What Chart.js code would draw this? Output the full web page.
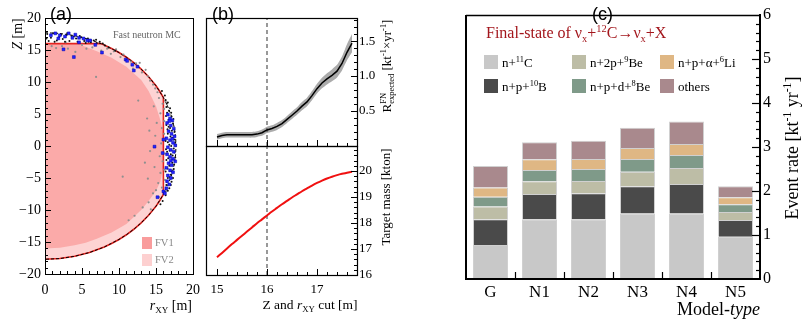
<!DOCTYPE html>
<html><head><meta charset="utf-8">
<script src="https://cdn.jsdelivr.net/npm/chart.js@4.4.1/dist/chart.umd.min.js"></script>
<style>
html,body{margin:0;padding:0;background:#fff;}
#wrap{position:relative;width:803px;height:327px;overflow:hidden;background:#fff;}
canvas{position:absolute;left:0;top:0;pointer-events:none;}
</style></head><body>
<div id="wrap">
<canvas id="ca" width="803" height="327"></canvas>
<canvas id="cb1" width="803" height="327"></canvas>
<canvas id="cb2" width="803" height="327"></canvas>
<canvas id="cc" width="803" height="327"></canvas>
</div>
<script>
// ---------------- DATA: panel (a) ----------------
const aXTickVals = [0, 5, 10, 15, 20];
const aXTickLabels = ['0', '5', '10', '15', '20'];
const aYTickVals = [-20, -15, -10, -5, 0, 5, 10, 15, 20];
const aYTickLabels = ['\u221220', '\u221215', '\u221210', '\u22125', '0', '5', '10', '15', '20'];

const fv2R  = [0, 2, 4, 6, 7.57, 8, 9, 10, 11, 12, 13, 14, 15, 15.5, 16];
const fv2Up = [16, 16, 16, 16, 16, 15.79, 15.24, 14.6, 13.87, 13.01, 12.01, 10.83, 9.4, 8.55, 7.57];
const fv2Lo = [-17.7, -17.59, -17.24, -16.65, -16.0, -15.79, -15.24, -14.6, -13.87, -13.01, -12.01, -10.83, -9.4, -8.55, -7.57];

const fv1R  = [0, 2, 4, 5.5, 7, 9, 11, 13, 14, 15, 15.6, 16];
const fv1Up = [16, 16, 16, 15.5, 14.8, 13.8, 12.4, 10.3, 8.6, 6.2, 4.0, 2.0];
const fv1Lo = [-16, -15.9, -15.5, -15.1, -14.5, -13.5, -12.2, -10.0, -8.6, -7.0, -5.5, -3.3];

const aCutLine = [[0,16],[7.57,16],[8,15.79],[9,15.24],[10,14.6],[11,13.87],[12,13.01],[13,12.01],[14,10.83],[15,9.4],[15.5,8.55],[16,7.57],
  [16,-7.57],[15.5,-8.55],[15,-9.4],[14,-10.83],[13,-12.01],[12,-13.01],[11,-13.87],[10,-14.6],[9,-15.24],[8,-15.79],[6,-16.65],[4,-17.24],[2,-17.59],[0,-17.7]];

const aVessel = [[0,17.7],[2,17.59],[4,17.24],[6,16.65],[8,15.79],[10,14.6],[11,13.87],[12,13.01],[13,12.01],[14,10.83],[15,9.4],[16,7.57],[16.5,6.41],[17,4.93],[17.3,3.74],[17.5,2.65],[17.65,1.33],[17.7,0],
  [17.65,-1.33],[17.5,-2.65],[17.3,-3.74],[17,-4.93],[16.5,-6.41],[16,-7.57],[15,-9.4],[14,-10.83],[13,-12.01],[12,-13.01],[11,-13.87],[10,-14.6],[8,-15.79],[6,-16.65],[4,-17.24],[2,-17.59],[0,-17.7]];

const aGray = [[6.9,10.8],[1.5,15.3],[2.3,15.6],[3.1,15.2],[5.0,15.8],[6.4,15.4],[7.6,14.9],[8.4,15.2],[9.3,14.8],[10.2,13.9],[10.6,14.3],[11.6,13.2],[12.3,12.9],[13.1,11.5],[13.6,11.9],[14.2,10.2],[14.6,9.6],[13.9,10.9],[15.2,8.4],[15.4,7.5],[14.7,6.2],[15.6,5.1],[13.8,4.3],[15.1,3.6],[15.8,2.8],[14.9,1.6],[15.7,0.4],[14.2,-0.8],[15.5,-1.6],[15.9,-2.4],[14.8,-3.3],[15.6,-4.2],[13.9,-5.1],[15.3,-5.8],[15.8,-6.5],[14.6,-7.4],[14.0,-8.8],[13.2,-9.6],[12.1,-10.9],[11.3,-11.6],[15.0,-6.9],[14.1,2.4],[13.5,-2.6],[10.5,-4.8],[12.6,7.1],[16.1,5.8],[16.2,-5.3],[16.1,3.9],[16.2,-1.2],[9.6,15.1],[4.1,14.7],[12.8,13.0],[11.9,12.1],[16.3,7.0],[16.4,-7.0],
  [2.8,16.2],[0.9,15.6],[5.6,15.2],[8.9,14.4],[14.9,9.0],[15.9,6.6],[16.1,1.9],[16.1,-3.7],[15.4,-8.0],[14.3,-9.9]];

const aBlack = [[0.3,17.5],[0.8,16.9],[1.1,17.6],[1.6,16.5],[2.2,17.4],[2.4,16.7],[2.9,17.3],[3.3,16.4],[3.6,17.2],[4.2,16.8],[4.4,16.3],[4.9,17.0],[5.3,16.4],[5.8,16.8],[6.2,16.2],[6.6,16.5],[7.0,16.1],[7.4,16.3],[8.1,15.7],[0.5,16.4],[1.9,17.0],[3.9,17.1],[5.5,16.1],
  [16.3,7.2],[16.6,6.8],[16.4,6.1],[16.9,5.9],[16.5,5.2],[17.1,4.6],[16.7,4.1],[17.3,3.5],[16.4,3.3],[16.9,2.8],[17.5,2.2],[16.6,1.9],[17.2,1.3],[16.3,0.8],[17.6,0.5],[16.8,0.2],[17.4,-0.4],[16.5,-0.9],[17.0,-1.3],[17.6,-1.8],[16.4,-2.2],[17.2,-2.6],[16.8,-3.1],[17.4,-3.6],[16.3,-4.0],[17.0,-4.5],[16.6,-5.0],[17.1,-5.6],[16.4,-6.1],[16.8,-6.6],[16.2,-7.2],[16.9,-3.9],[17.5,-1.0],[16.7,3.0],[17.3,-5.0],
  [16.45,6.6],[16.75,5.5],[17.05,5.2],[16.35,4.7],[17.35,4.2],[16.55,2.6],[17.15,2.4],[16.95,1.5],[17.45,1.0],[16.6,0.6],[17.05,0.0],[16.35,-0.5],[16.85,-0.7],[17.25,-1.5],[16.65,-1.9],[17.45,-2.9],[16.55,-3.5],[17.15,-4.0],[16.85,-4.9],[16.45,-5.6],[17.0,-6.1],[16.6,-7.0],[16.3,-7.7],[15.9,-8.6],[15.6,-9.1],[16.2,7.9],[15.8,8.6],
  [1.3,16.3],[2.7,16.3],[3.0,17.6],[4.7,17.2],[5.9,16.3],[6.9,16.6],[7.8,16.0],[8.6,15.4],[9.5,14.9],[0.2,16.8]];

const aBlue = [[0.8,17.3],[1.4,17.6],[2.0,17.3],[2.7,17.1],[3.2,17.6],[3.7,16.9],[4.1,17.4],[4.6,16.9],[5.2,16.8],[5.7,16.5],[6.1,16.5],[4.6,16.2],[6.8,15.8],[7.7,14.6],[2.5,15.1],[3.9,13.9],[10.9,13.5],[11.1,13.3],[11.8,12.7],[12.5,12.4],[12.0,11.8],[1.8,16.8],
  [16.6,4.9],[16.9,4.3],[17.2,4.0],[16.5,3.6],[17.0,3.2],[17.4,2.7],[16.7,2.3],[17.1,1.9],[17.5,1.5],[16.4,1.2],[16.9,0.9],[17.3,0.5],[17.6,0.1],[16.6,-0.2],[17.0,-0.6],[17.4,-0.9],[16.5,-1.3],[16.9,-1.7],[17.3,-2.0],[17.6,-2.4],[16.7,-2.7],[17.1,-3.0],[16.4,-3.4],[16.9,-3.8],[17.3,-4.1],[16.6,-4.6],[17.0,-5.0],[16.5,-5.5],[16.8,-6.0],[16.4,-6.6],[17.2,1.1],[16.8,3.9],[17.0,-2.3],[15.9,-1.1],[14.8,-0.1],[16.0,1.0],[15.2,-8.0],[16.0,-7.1],[16.2,-7.4]];

// ---------------- DATA: panel (b) ----------------
const bCut = [15.0,15.1,15.2,15.3,15.4,15.5,15.6,15.7,15.8,15.9,16.0,16.1,16.2,16.3,16.4,16.5,16.6,16.7,16.8,16.9,17.0,17.1,17.2,17.3,17.4,17.5,17.6,17.7];
const bRate = [0.13,0.15,0.16,0.16,0.16,0.16,0.16,0.16,0.17,0.19,0.23,0.25,0.28,0.32,0.38,0.44,0.50,0.57,0.63,0.72,0.82,0.90,0.96,1.01,1.07,1.18,1.34,1.47];
const bRateErr = [0.04,0.04,0.04,0.04,0.04,0.04,0.04,0.04,0.04,0.045,0.045,0.045,0.05,0.05,0.05,0.055,0.055,0.06,0.06,0.065,0.07,0.075,0.08,0.085,0.09,0.1,0.115,0.13];
const bMass = [16.68,16.85,17.02,17.19,17.35,17.51,17.67,17.83,17.99,18.14,18.29,18.44,18.58,18.72,18.85,18.98,19.10,19.22,19.33,19.44,19.54,19.63,19.71,19.78,19.84,19.89,19.93,19.97];
const bXTickVals = [15, 16, 17];
const bXTickLabels = ['15', '16', '17'];
const bRateTickVals = [0.5, 1.0, 1.5];
const bRateTickLabels = ['0.5', '1.0', '1.5'];
const bMassTickVals = [16, 17, 18, 19, 20];
const bMassTickLabels = ['16', '17', '18', '19', '20'];
const bCutMark = 16;

// ---------------- DATA: panel (c) ----------------
const cModels = ['G', 'N1', 'N2', 'N3', 'N4', 'N5'];
const cN11C   = [0.77, 1.36, 1.36, 1.49, 1.49, 0.96];
const cNP10B  = [0.59, 0.57, 0.59, 0.62, 0.67, 0.38];
const cN2P9Be = [0.29, 0.29, 0.28, 0.33, 0.36, 0.18];
const cNPD8Be = [0.22, 0.26, 0.27, 0.29, 0.30, 0.18];
const cNPA6Li = [0.21, 0.24, 0.23, 0.25, 0.25, 0.16];
const cOthers = [0.49, 0.39, 0.41, 0.46, 0.51, 0.25];
const cYTickVals = [0, 1, 2, 3, 4, 5, 6];
const cYTickLabels = ['0', '1', '2', '3', '4', '5', '6'];

// ---------------- helpers ----------------
const SERIF = '"Liberation Serif", "Times New Roman", serif';
const SANS = '"Liberation Sans", Arial, sans-serif';
const W = 803, H = 327;
Chart.defaults.animation = false;
Chart.defaults.responsive = false;
Chart.defaults.devicePixelRatio = 1;
Chart.defaults.events = [];
Chart.defaults.plugins.legend.display = false;
Chart.defaults.plugins.tooltip.enabled = false;
Chart.defaults.font.family = SERIF;

function box(l, t, r, b) { return { padding: { left: l, top: t, right: W - r, bottom: H - b } }; }
function hidLin(min, max, axis) {
  return { type: 'linear', min, max, display: true, grid: { display: false }, border: { display: false },
    ticks: { display: false }, afterFit(s) { if (axis === 'x') s.height = 0; else s.width = 0; } };
}
function pts(arr) { return arr.map(p => ({ x: p[0], y: p[1] })); }
function xy(xs, ys) { return xs.map((x, i) => ({ x, y: ys[i] })); }
function ln(ctx, x1, y1, x2, y2) { ctx.beginPath(); ctx.moveTo(x1, y1); ctx.lineTo(x2, y2); ctx.stroke(); }
function fstr(size, fam, it) { return (it ? 'italic ' : '') + size + 'px ' + fam; }
function segW(ctx, s, size, fam) {
  const m = s.m || 'n';
  const ss = m === 'n' ? size : size * 0.65;
  ctx.font = fstr(ss, fam, s.i);
  let w = ctx.measureText(s.t).width;
  if (m === 'pb') w = Math.max(w, ctx.measureText(s.t2).width);
  return w;
}
function rich(ctx, segs, x, y, size, fam, color, align) {
  const total = segs.reduce((a, s) => a + segW(ctx, s, size, fam), 0);
  let cx = align === 'center' ? x - total / 2 : (align === 'right' ? x - total : x);
  ctx.fillStyle = color; ctx.textBaseline = 'alphabetic'; ctx.textAlign = 'left';
  for (const s of segs) {
    const w = segW(ctx, s, size, fam);
    const m = s.m || 'n';
    if (m === 'n') { ctx.font = fstr(size, fam, s.i); ctx.fillText(s.t, cx, y); }
    else {
      ctx.font = fstr(size * 0.65, fam, s.i);
      if (m === 'p' || m === 'pb') ctx.fillText(s.t, cx, y - size * 0.38);
      if (m === 'b') ctx.fillText(s.t, cx, y + size * 0.22);
      if (m === 'pb') ctx.fillText(s.t2, cx, y + size * 0.25);
    }
    cx += w;
  }
}
function richRot(ctx, segs, cx, cy, size, fam, color) {
  ctx.save(); ctx.translate(cx, cy); ctx.rotate(-Math.PI / 2);
  rich(ctx, segs, 0, size * 0.35, size, fam, color, 'center');
  ctx.restore();
}
function txt(ctx, s, x, y, size, fam, color, align) {
  ctx.font = fstr(size, fam); ctx.fillStyle = color; ctx.textAlign = align; ctx.textBaseline = 'middle';
  ctx.fillText(s, x, y);
}

// ---------------- panel (a) ----------------
const plugA = { id: 'plugA', afterDraw(chart) {
  const { ctx, chartArea: ca, scales: { x, y } } = chart;
  ctx.save();
  ctx.strokeStyle = '#000'; ctx.lineWidth = 1;
  ctx.strokeRect(Math.round(ca.left) + 0.5, Math.round(ca.top) + 0.5, ca.right - ca.left, ca.bottom - ca.top);
  for (let v = 0; v <= 20; v++) { const px = Math.round(x.getPixelForValue(v)) + 0.5; ln(ctx, px, ca.bottom, px, ca.bottom - (v % 5 === 0 ? 6 : 3)); }
  for (let v = -20; v <= 20; v++) { const py = Math.round(y.getPixelForValue(v)) + 0.5; ln(ctx, ca.left, py, ca.left + (v % 5 === 0 ? 6 : 3), py); }
  aXTickVals.forEach((v, i) => txt(ctx, aXTickLabels[i], x.getPixelForValue(v), 290, 14, SERIF, '#000', 'center'));
  aYTickVals.forEach((v, i) => txt(ctx, aYTickLabels[i], 41, y.getPixelForValue(v), 14, SERIF, '#000', 'right'));
  rich(ctx, [{ t: 'r', i: true }, { t: 'XY', m: 'b' }, { t: ' [m]' }], 192, 310, 14, SERIF, '#000', 'right');
  richRot(ctx, [{ t: 'Z', i: true }, { t: ' [m]' }], 17, 34, 14, SERIF, '#000');
  txt(ctx, 'Fast neutron MC', 113, 35, 10, SERIF, '#666', 'left');
  ctx.fillStyle = '#f99c9c'; ctx.fillRect(142, 237, 10, 12);
  ctx.fillStyle = '#fdd0d0'; ctx.fillRect(142, 254, 10, 12);
  txt(ctx, 'FV1', 155, 243, 10.5, SERIF, '#888', 'left');
  txt(ctx, 'FV2', 155, 260, 10.5, SERIF, '#888', 'left');
  txt(ctx, '(a)', 50, 15, 18, SANS, '#000', 'left');
  ctx.restore();
} };
const noLine = 'rgba(0,0,0,0)';
new Chart(document.getElementById('ca'), {
  type: 'scatter',
  data: { datasets: [
    { data: pts(aBlue), pointStyle: 'rect', pointRadius: 2, backgroundColor: '#2424ff', borderColor: '#0000b0', borderWidth: 0.5, order: 0 },
    { data: pts(aBlack), pointRadius: 1, backgroundColor: '#111', borderWidth: 0, order: 1 },
    { data: pts(aGray), pointRadius: 1.1, backgroundColor: '#8f8f8f', borderWidth: 0, order: 2 },
    { data: pts(aVessel), showLine: true, borderColor: '#000', borderWidth: 1, borderDash: [3, 2], pointRadius: 0, fill: false, order: 3 },
    { data: pts(aCutLine), showLine: true, borderColor: '#e52420', borderWidth: 1.6, pointRadius: 0, fill: false, order: 4 },
    { data: xy(fv1R, fv1Up), showLine: true, borderColor: noLine, borderWidth: 0, pointRadius: 0, backgroundColor: '#fbaaa9', fill: 6, order: 5 },
    { data: xy(fv1R, fv1Lo), showLine: true, borderColor: noLine, borderWidth: 0, pointRadius: 0, fill: false, order: 6 },
    { data: xy(fv2R, fv2Up), showLine: true, borderColor: noLine, borderWidth: 0, pointRadius: 0, backgroundColor: '#fdd3d3', fill: 8, order: 7 },
    { data: xy(fv2R, fv2Lo), showLine: true, borderColor: noLine, borderWidth: 0, pointRadius: 0, fill: false, order: 8 }
  ] },
  options: { layout: box(45, 18, 193, 274), scales: { x: hidLin(0, 20, 'x'), y: hidLin(-20, 20, 'y') } },
  plugins: [plugA]
});

// ---------------- panel (b) top ----------------
function bFrame(ctx, ca, x) {
  ctx.strokeStyle = '#000'; ctx.lineWidth = 1.2;
  ctx.strokeRect(ca.left + 0.5, ca.top + 0.5, ca.right - ca.left, ca.bottom - ca.top);
  ctx.lineWidth = 1;
  for (let k = 74; k <= 89; k++) {
    const v = k / 5; const px = Math.round(x.getPixelForValue(v)) + 0.5;
    if (px < ca.left + 2 || px > ca.right - 2) continue;
    ln(ctx, px, ca.bottom, px, ca.bottom - (k % 5 === 0 ? 6 : 3));
  }
}
const plugB1 = { id: 'plugB1', afterDraw(chart) {
  const { ctx, chartArea: ca, scales: { x, y } } = chart;
  ctx.save();
  bFrame(ctx, ca, x);
  for (let k = 1; k <= 18; k++) { const py = Math.round(y.getPixelForValue(k / 10)) + 0.5; ln(ctx, ca.right, py, ca.right - (k % 5 === 0 ? 6 : 3), py); }
  bRateTickVals.forEach((v, i) => txt(ctx, bRateTickLabels[i], 359, y.getPixelForValue(v), 13, SERIF, '#000', 'left'));
  richRot(ctx, [{ t: 'R' }, { t: 'FN', m: 'pb', t2: 'expected' }, { t: ' [kt' }, { t: '-1', m: 'p' }, { t: '\u00d7yr' }, { t: '-1', m: 'p' }, { t: ']' }], 386, 66, 13, SERIF, '#000');
  txt(ctx, '(b)', 212, 15, 18, SANS, '#000', 'left');
  ctx.restore();
} };
const rateUp = bRate.map((v, i) => v + bRateErr[i]);
const rateLo = bRate.map((v, i) => v - bRateErr[i]);
new Chart(document.getElementById('cb1'), {
  type: 'scatter',
  data: { datasets: [
    { data: xy(bCut, bRate), showLine: true, borderColor: '#000', borderWidth: 1.5, pointRadius: 0, fill: false, order: 0 },
    { data: [{ x: bCutMark, y: 0 }, { x: bCutMark, y: 1.83 }], showLine: true, borderColor: '#555', borderWidth: 1.2, borderDash: [4, 3], pointRadius: 0, fill: false, order: 1 },
    { data: xy(bCut, rateUp), showLine: true, borderColor: noLine, borderWidth: 0, pointRadius: 0, backgroundColor: '#ababab', fill: 3, order: 2, tension: 0.2 },
    { data: xy(bCut, rateLo), showLine: true, borderColor: noLine, borderWidth: 0, pointRadius: 0, fill: false, order: 3, tension: 0.2 }
  ] },
  options: { layout: box(206, 18, 357, 146), scales: { x: hidLin(14.78, 17.8, 'x'), y: hidLin(0, 1.83, 'y') } },
  plugins: [plugB1]
});

// ---------------- panel (b) bottom ----------------
const plugB2 = { id: 'plugB2', afterDraw(chart) {
  const { ctx, chartArea: ca, scales: { x, y } } = chart;
  ctx.save();
  bFrame(ctx, ca, x);
  for (let k = 81; k <= 104; k++) { const py = Math.round(y.getPixelForValue(k / 5)) + 0.5; if (py < ca.top + 2) continue; ln(ctx, ca.right, py, ca.right - (k % 5 === 0 ? 6 : 3), py); }
  bMassTickVals.forEach((v, i) => txt(ctx, bMassTickLabels[i], 359, y.getPixelForValue(v), 13, SERIF, '#000', 'left'));
  bXTickVals.forEach((v, i) => txt(ctx, bXTickLabels[i], x.getPixelForValue(v), 290, 13, SERIF, '#000', 'center'));
  rich(ctx, [{ t: 'Z and ' }, { t: 'r', i: true }, { t: 'XY', m: 'b' }, { t: ' cut [m]' }], 310, 309, 13.5, SERIF, '#000', 'center');
  richRot(ctx, [{ t: 'Target mass [kton]' }], 385, 197, 13, SERIF, '#000');
  ctx.restore();
} };
new Chart(document.getElementById('cb2'), {
  type: 'scatter',
  data: { datasets: [
    { data: xy(bCut, bMass), showLine: true, borderColor: '#f01010', borderWidth: 2, pointRadius: 0, fill: false, order: 0, tension: 0.4 },
    { data: [{ x: bCutMark, y: 16 }, { x: bCutMark, y: 20.96 }], showLine: true, borderColor: '#555', borderWidth: 1.2, borderDash: [4, 3], pointRadius: 0, fill: false, order: 1 }
  ] },
  options: { layout: box(206, 146, 357, 275), scales: { x: hidLin(14.78, 17.8, 'x'), y: hidLin(16, 20.96, 'y') } },
  plugins: [plugB2]
});

// ---------------- panel (c) ----------------
const cColors = ['#c8c8c8', '#4a4a4a', '#bdbda6', '#7f9a89', '#dfb784', '#a9898d'];
const cSeries = [cN11C, cNP10B, cN2P9Be, cNPD8Be, cNPA6Li, cOthers];
const cLegend = [
  [{ t: 'n+' }, { t: '11', m: 'p' }, { t: 'C' }],
  [{ t: 'n+p+' }, { t: '10', m: 'p' }, { t: 'B' }],
  [{ t: 'n+2p+' }, { t: '9', m: 'p' }, { t: 'Be' }],
  [{ t: 'n+p+d+' }, { t: '8', m: 'p' }, { t: 'Be' }],
  [{ t: 'n+p+\u03b1+' }, { t: '6', m: 'p' }, { t: 'Li' }],
  [{ t: 'others' }]
];
const plugC = { id: 'plugC', afterDraw(chart) {
  const { ctx, chartArea: ca, scales: { x, y } } = chart;
  ctx.save();
  ctx.strokeStyle = '#000';
  ctx.lineWidth = 1.5; ln(ctx, ca.left, ca.top + 0.5, ca.right, ca.top + 0.5);
  ctx.lineWidth = 2;
  ln(ctx, ca.left, ca.top, ca.left, ca.bottom + 1);
  ln(ctx, ca.right, ca.top - 1, ca.right, ca.bottom + 1);
  ln(ctx, ca.left - 1, ca.bottom, ca.right + 1, ca.bottom);
  ctx.lineWidth = 1.2;
  for (let k = 1; k < 30; k++) { const py = Math.round(y.getPixelForValue(k / 5)) + 0.5; ln(ctx, ca.right, py, ca.right - (k % 5 === 0 ? 8 : 4), py); }
  for (let i = 0; i < cModels.length - 1; i++) {
    const px = Math.round((x.getPixelForValue(i) + x.getPixelForValue(i + 1)) / 2) + 0.5;
    ln(ctx, px, ca.bottom, px, ca.bottom - 7);
  }
  cYTickVals.forEach((v, i) => txt(ctx, cYTickLabels[i], 763, y.getPixelForValue(v), 16, SERIF, '#000', 'left'));
  cModels.forEach((m, i) => txt(ctx, m, x.getPixelForValue(i), 293, 17, SERIF, '#000', 'center'));
  rich(ctx, [{ t: 'Model-' }, { t: 'type', i: true }], 760, 315, 18, SERIF, '#000', 'right');
  richRot(ctx, [{ t: 'Event rate [kt' }, { t: '-1', m: 'p' }, { t: ' yr' }, { t: '-1', m: 'p' }, { t: ']' }], 792, 148, 18, SERIF, '#000');
  rich(ctx, [{ t: 'Final-state of \u03bd' }, { t: 'x', m: 'b' }, { t: '+' }, { t: '12', m: 'p' }, { t: 'C\u2192\u03bd' }, { t: 'x', m: 'b' }, { t: '+X' }], 486, 38, 16, SERIF, '#a3161c', 'left');
  const colX = [484, 572, 660], rowY = [55, 79];
  const order = [[0, 0, 0], [2, 1, 0], [4, 2, 0], [1, 0, 1], [3, 1, 1], [5, 2, 1]];
  order.forEach(([si, c, r]) => {
    ctx.fillStyle = cColors[si]; ctx.fillRect(colX[c], rowY[r], 14, 14);
    rich(ctx, cLegend[si], colX[c] + 18, rowY[r] + 11.5, 13, SERIF, '#000', 'left');
  });
  txt(ctx, '(c)', 592, 15, 18, SANS, '#000', 'left');
  ctx.restore();
} };
new Chart(document.getElementById('cc'), {
  type: 'bar',
  data: { labels: cModels, datasets: cSeries.map((s, i) => ({ data: s, backgroundColor: cColors[i], borderColor: 'rgba(120,120,120,0.35)', borderWidth: 1, barPercentage: 0.714, categoryPercentage: 1.0 })) },
  options: { layout: box(466, 15, 760, 279),
    scales: { x: { type: 'category', stacked: true, offset: true, display: true, grid: { display: false }, border: { display: false }, ticks: { display: false }, afterFit(s) { s.height = 0; } },
              y: Object.assign(hidLin(0, 6, 'y'), { stacked: true }) } },
  plugins: [plugC]
});
</script>
</body></html>
